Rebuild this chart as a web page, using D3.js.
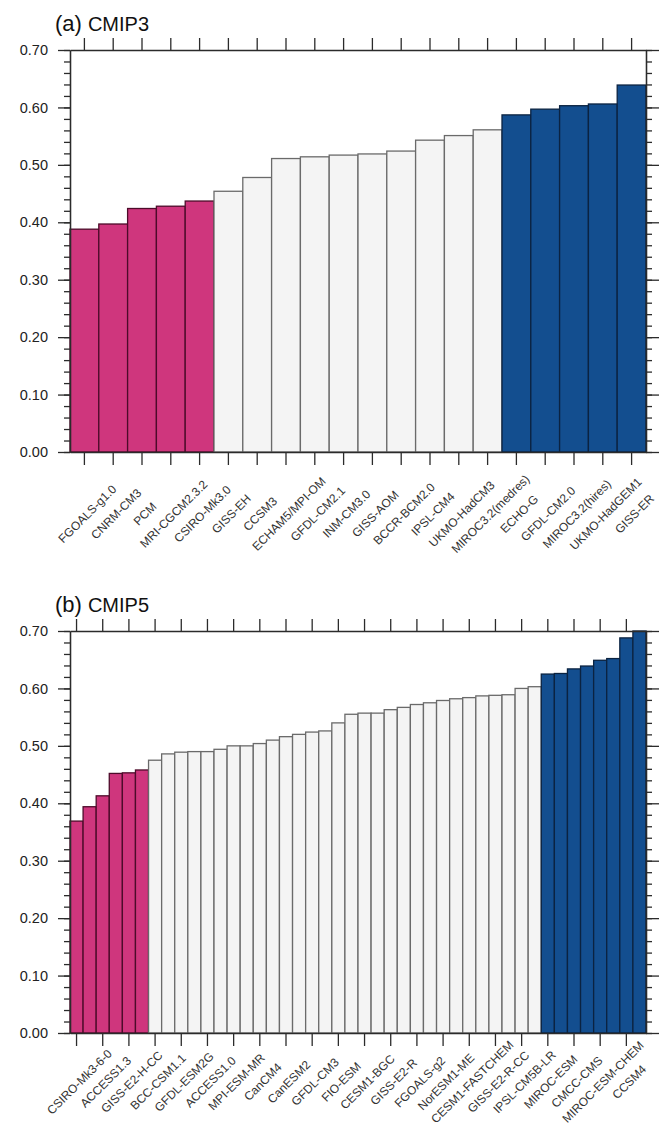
<!DOCTYPE html>
<html>
<head>
<meta charset="utf-8">
<script src="https://cdn.jsdelivr.net/npm/d3@7"></script>
<style>
  html, body { margin: 0; padding: 0; background: #fff; }
  svg { display: block; font-family: "Liberation Sans", Arial, Helvetica, sans-serif; }
</style>
</head>
<body>
<svg id="chart" width="665" height="1126"></svg>
<script>
// Panel (a): CMIP3 models, sorted by value
const cmip3Models = [
  "FGOALS-g1.0", "CNRM-CM3", "PCM", "MRI-CGCM2.3.2", "CSIRO-Mk3.0",
  "GISS-EH", "CCSM3", "ECHAM5/MPI-OM", "GFDL-CM2.1", "INM-CM3.0",
  "GISS-AOM", "BCCR-BCM2.0", "IPSL-CM4", "UKMO-HadCM3", "MIROC3.2(medres)",
  "ECHO-G", "GFDL-CM2.0", "MIROC3.2(hires)", "UKMO-HadGEM1", "GISS-ER"
];
const cmip3Values = [
  0.388, 0.397, 0.424, 0.428, 0.437,
  0.454, 0.478, 0.511, 0.514, 0.517,
  0.519, 0.524, 0.543, 0.551, 0.561,
  0.587, 0.597, 0.603, 0.606, 0.639
];

// Panel (b): CMIP5 models; every other bar carries a label
const cmip5Values = [
  0.369, 0.394, 0.413, 0.452, 0.453, 0.458, 0.475, 0.486, 0.489, 0.490,
  0.490, 0.494, 0.500, 0.500, 0.504, 0.510, 0.516, 0.520, 0.524, 0.526,
  0.540, 0.555, 0.557, 0.557, 0.563, 0.567, 0.572, 0.575, 0.579, 0.582,
  0.584, 0.587, 0.588, 0.589, 0.600, 0.603, 0.625, 0.626, 0.634, 0.639,
  0.649, 0.652, 0.688, 0.700
];
const cmip5TickLabels = [
  "CSIRO-Mk3-6-0", "ACCESS1.3", "GISS-E2-H-CC", "BCC-CSM1.1", "GFDL-ESM2G",
  "ACCESS1.0", "MPI-ESM-MR", "CanCM4", "CanESM2", "GFDL-CM3", "FIO-ESM",
  "CESM1-BGC", "GISS-E2-R", "FGOALS-g2", "NorESM1-ME", "CESM1-FASTCHEM",
  "GISS-E2-R-CC", "IPSL-CM5B-LR", "MIROC-ESM", "CMCC-CMS", "MIROC-ESM-CHEM", "CCSM4"
];

// Y axis ticks shared by both panels
const yMajorTicks = [0.0, 0.1, 0.2, 0.3, 0.4, 0.5, 0.6, 0.7];
const yMinorTicks = d3.range(0, 0.7001, 0.02);

const COLORS = {
  low:  { fill: "#cf367d", stroke: "#4d0b2a" },
  mid:  { fill: "#f4f4f4", stroke: "#6a6a6a" },
  high: { fill: "#134e8f", stroke: "#0b2341" }
};
const AXIS = "#2b2b2b";

const svg = d3.select("#chart");

function drawPanel(opt) {
  const { left, right, top, bottom } = opt;
  const g = svg.append("g");
  const n = opt.values.length;

  const x = d3.scaleBand().domain(d3.range(n)).range([left, right]).paddingInner(0).paddingOuter(0);
  const y = d3.scaleLinear().domain([0, 0.7]).range([bottom, top]);

  const group = i => i < opt.lowCount ? "low" : (i >= n - opt.highCount ? "high" : "mid");

  // bars
  g.append("g").selectAll("rect")
    .data(opt.values)
    .join("rect")
    .attr("x", (d, i) => x(i))
    .attr("y", d => y(d))
    .attr("width", x.bandwidth())
    .attr("height", d => y(0) - y(d))
    .attr("fill", (d, i) => COLORS[group(i)].fill)
    .attr("stroke", (d, i) => COLORS[group(i)].stroke)
    .attr("stroke-width", 1.3);

  // left axis: major ticks with labels, minor ticks
  const gl = g.append("g").attr("transform", `translate(${left},0)`)
    .call(d3.axisLeft(y).tickValues(yMajorTicks).tickFormat(d3.format(".2f"))
      .tickSize(12).tickSizeOuter(0).tickPadding(10));
  g.append("g").attr("transform", `translate(${left},0)`)
    .call(d3.axisLeft(y).tickValues(yMinorTicks).tickSize(6).tickSizeOuter(0).tickFormat(""));

  // right axis: ticks only
  g.append("g").attr("transform", `translate(${right},0)`)
    .call(d3.axisRight(y).tickValues(yMajorTicks).tickSize(13).tickSizeOuter(0).tickFormat(""));
  g.append("g").attr("transform", `translate(${right},0)`)
    .call(d3.axisRight(y).tickValues(yMinorTicks).tickSize(6).tickSizeOuter(0).tickFormat(""));

  // bottom and top axes with ticks at labelled bar centres
  const tickIdx = d3.range(0, n, opt.tickStep);
  g.append("g").attr("transform", `translate(0,${bottom})`)
    .call(d3.axisBottom(x).tickValues(tickIdx).tickSize(13).tickSizeOuter(0).tickFormat(""));
  g.append("g").attr("transform", `translate(0,${top})`)
    .call(d3.axisTop(x).tickValues(tickIdx).tickSize(12).tickSizeOuter(0).tickFormat(""));

  g.selectAll(".domain").attr("stroke", AXIS).attr("stroke-width", 1.3);
  g.selectAll(".tick line").attr("stroke", AXIS).attr("stroke-width", 1.3);

  gl.selectAll(".tick text").attr("font-size", 14.5).attr("fill", "#222")
    .attr("font-family", "Liberation Sans, Arial, sans-serif");

  // rotated x labels, each centred on a point just right of its tick
  const fs = 12;
  g.append("g").selectAll("text")
    .data(tickIdx)
    .join("text")
    .attr("text-anchor", "middle")
    .attr("dominant-baseline", "central")
    .attr("font-size", fs)
    .attr("fill", "#333")
    .attr("transform", d => `translate(${x(d) + x.bandwidth() / 2 + 3},${opt.labelMid}) rotate(-45)`)
    .text((d, k) => opt.labels[k]);

  // panel title
  const t = g.append("text").attr("x", 55).attr("y", top - 19).attr("fill", "#111");
  t.append("tspan").attr("font-size", 22).text(opt.tag);
  t.append("tspan").attr("font-size", 20).attr("dx", 6).text(opt.title);
}

drawPanel({
  values: cmip3Values, labels: cmip3Models, tickStep: 1,
  lowCount: 5, highCount: 5,
  left: 70, right: 646, top: 50, bottom: 452, labelMid: 514,
  tag: "(a)", title: "CMIP3"
});

drawPanel({
  values: cmip5Values, labels: cmip5TickLabels, tickStep: 2,
  lowCount: 6, highCount: 8,
  left: 70, right: 646, top: 631, bottom: 1033, labelMid: 1082,
  tag: "(b)", title: "CMIP5"
});
</script>
</body>
</html>
